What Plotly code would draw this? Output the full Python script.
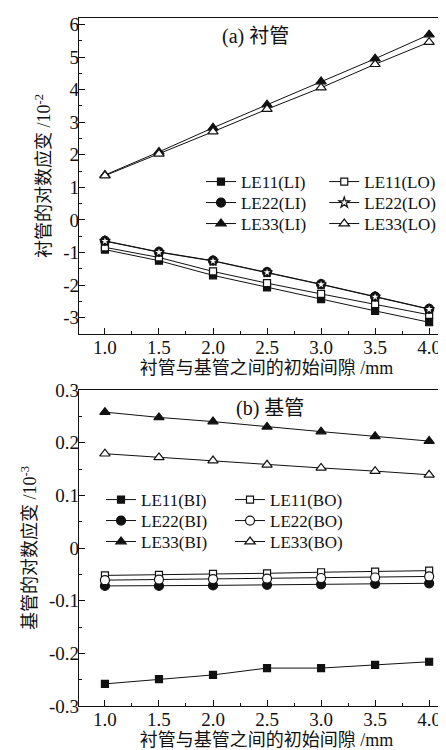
import plotly.graph_objects as go

gap = [1.0, 1.5, 2.0, 2.5, 3.0, 3.5, 4.0]

# (a) liner strains, units 1e-2
le11_li = [-0.91, -1.25, -1.70, -2.07, -2.43, -2.79, -3.14]
le11_lo = [-0.84, -1.15, -1.58, -1.94, -2.27, -2.58, -2.91]
le22_li = [-0.64, -0.98, -1.25, -1.60, -1.97, -2.35, -2.73]
le22_lo = [-0.65, -0.99, -1.26, -1.61, -1.98, -2.36, -2.74]
le33_li = [1.38, 2.09, 2.83, 3.54, 4.25, 4.95, 5.69]
le33_lo = [1.36, 2.03, 2.71, 3.40, 4.06, 4.78, 5.46]

# (b) base pipe strains, units 1e-3
le11_bi = [-0.258, -0.249, -0.241, -0.228, -0.228, -0.222, -0.216]
le11_bo = [-0.052, -0.051, -0.049, -0.048, -0.046, -0.045, -0.043]
le22_bi = [-0.072, -0.072, -0.071, -0.070, -0.069, -0.068, -0.067]
le22_bo = [-0.061, -0.060, -0.059, -0.058, -0.057, -0.056, -0.054]
le33_bi = [0.258, 0.248, 0.240, 0.230, 0.221, 0.212, 0.203]
le33_bo = [0.179, 0.172, 0.166, 0.158, 0.152, 0.146, 0.139]

x_ticks = [1.0, 1.5, 2.0, 2.5, 3.0, 3.5, 4.0]
x_ticklabels = ["1.0", "1.5", "2.0", "2.5", "3.0", "3.5", "4.0"]
ya_ticks = [-3, -2, -1, 0, 1, 2, 3, 4, 5, 6]
ya_ticklabels = ["-3", "-2", "-1", "0", "1", "2", "3", "4", "5", "6"]
yb_ticks = [-0.3, -0.2, -0.1, 0, 0.1, 0.2, 0.3]
yb_ticklabels = ["-0.3", "-0.2", "-0.1", "0", "0.1", "0.2", "0.3"]

FONT = "'Liberation Serif', 'Noto Sans CJK SC', serif"
BLACK = "#111111"

fig = go.Figure()

series = [
    # name, y, symbol, filled, axis, legend id
    ("LE11(LI)", le11_li, "square", True, "y", "legend"),
    ("LE11(LO)", le11_lo, "square", False, "y", "legend2"),
    ("LE22(LI)", le22_li, "circle", True, "y", "legend3"),
    ("LE22(LO)", le22_lo, "star", False, "y", "legend4"),
    ("LE33(LI)", le33_li, "triangle-up", True, "y", "legend5"),
    ("LE33(LO)", le33_lo, "triangle-up", False, "y", "legend6"),
    ("LE11(BI)", le11_bi, "square", True, "y2", "legend7"),
    ("LE11(BO)", le11_bo, "square", False, "y2", "legend8"),
    ("LE22(BI)", le22_bi, "circle", True, "y2", "legend9"),
    ("LE22(BO)", le22_bo, "circle", False, "y2", "legend10"),
    ("LE33(BI)", le33_bi, "triangle-up", True, "y2", "legend11"),
    ("LE33(BO)", le33_bo, "triangle-up", False, "y2", "legend12"),
]

sizes = {"square": 7, "circle": 9, "triangle-up": 9, "star": 8}
for name, ys, sym, filled, yax, lg in series:
    fig.add_trace(go.Scatter(
        x=gap, y=ys, name=name, mode="lines+markers",
        xaxis="x" if yax == "y" else "x2", yaxis=yax,
        line=dict(color=BLACK, width=1),
        marker=dict(symbol=sym, size=sizes[sym],
                    color=BLACK if filled else "white",
                    line=dict(color=BLACK, width=1.2)),
        legend=lg,
    ))

# legend positions (paper coords)
col_top = [0.3253, 0.654]
row_top = [0.7616, 0.7311, 0.7006]
col_bot = [0.0587, 0.4027]
row_bot = [0.2994, 0.2689, 0.2384]
legends = {}
ids = ["legend"] + ["legend%d" % i for i in range(2, 13)]
for i, lid in enumerate(ids):
    if i < 6:
        r, c = i // 2, i % 2
        xx, yy = col_top[c], row_top[r]
    else:
        j = i - 6
        r, c = j // 2, j % 2
        xx, yy = col_bot[c], row_bot[r]
    legends[lid] = dict(x=xx, y=yy, xanchor="left", yanchor="middle",
                        bgcolor="rgba(0,0,0,0)", borderwidth=0,
                        font=dict(family=FONT, size=17, color=BLACK),
                        itemclick=False, itemdoubleclick=False)

axis_common = dict(
    showline=True, linecolor=BLACK, linewidth=1.3, mirror=True,
    ticks="inside", ticklen=6, tickwidth=1.2, tickcolor=BLACK,
    showgrid=False, zeroline=False,
    tickfont=dict(family=FONT, size=19, color=BLACK),
)
title_font = dict(family=FONT, size=18, color=BLACK)

fig.update_layout(
    width=446, height=750,
    margin=dict(l=71, r=0, t=10, b=52),
    paper_bgcolor="white", plot_bgcolor="white",
    font=dict(family=FONT, color=BLACK),
    showlegend=True,
    xaxis=dict(domain=[0, 1], anchor="y", range=[0.76, 4.23],
               tickvals=x_ticks, ticktext=x_ticklabels, ticklabelstandoff=-4,
               minor=dict(dtick=0.25, ticks="inside", ticklen=3, tickcolor=BLACK, tickwidth=1),
               title=dict(text="衬管与基管之间的初始间隙 /mm", standoff=0, font=title_font),
               **axis_common),
    yaxis=dict(domain=[0.5407, 1.0], anchor="x", range=[-3.5, 6.2],
               tickvals=ya_ticks, ticktext=ya_ticklabels, ticklabelstandoff=-5,
               minor=dict(dtick=0.5, ticks="inside", ticklen=3, tickcolor=BLACK, tickwidth=1),
               title=dict(text="衬管的对数应变 /10<sup>-2</sup>", standoff=7, font=title_font),
               **axis_common),
    xaxis2=dict(domain=[0, 1], anchor="y2", range=[0.76, 4.23],
                tickvals=x_ticks, ticktext=x_ticklabels, ticklabelstandoff=-4,
                minor=dict(dtick=0.25, ticks="inside", ticklen=3, tickcolor=BLACK, tickwidth=1),
                title=dict(text="衬管与基管之间的初始间隙 /mm", standoff=0, font=title_font),
                **axis_common),
    yaxis2=dict(domain=[0.0, 0.4593], anchor="x2", range=[-0.3, 0.3],
                tickvals=yb_ticks, ticktext=yb_ticklabels, ticklabelstandoff=-5,
                minor=dict(dtick=0.05, ticks="inside", ticklen=3, tickcolor=BLACK, tickwidth=1),
                title=dict(text="基管的对数应变 /10<sup>-3</sup>", standoff=7, font=title_font),
                **axis_common),
    annotations=[
        dict(text="(a) 衬管", x=0.47, y=0.9724, xref="paper", yref="paper",
             xanchor="center", yanchor="middle",
             showarrow=False, font=dict(family=FONT, size=20, color=BLACK)),
        dict(text="(b) 基管", x=0.509, y=0.4331, xref="paper", yref="paper",
             xanchor="center", yanchor="middle",
             showarrow=False, font=dict(family=FONT, size=20, color=BLACK)),
    ],
    **legends,
)

fig.write_html("out.html")
